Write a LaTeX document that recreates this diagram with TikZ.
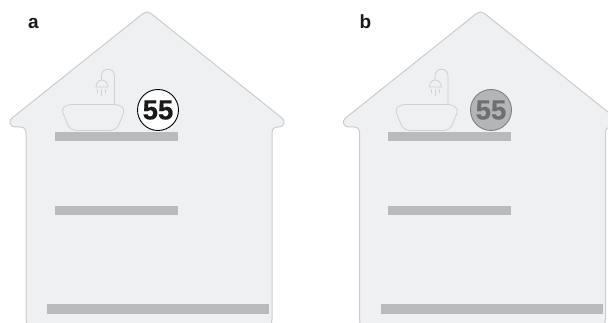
\documentclass[tikz,border=0pt]{standalone}
\usepackage{fontspec}
\setmainfont{Liberation Sans}
\newfontfamily\badgefont[FakeBold=0.6]{Liberation Sans Bold}
\definecolor{housefill}{HTML}{EFF0F2}
\definecolor{houseline}{HTML}{CBCCCE}
\definecolor{fixture}{HTML}{CFD0D2}
\definecolor{shelf}{HTML}{B9BABC}
\definecolor{dimfill}{HTML}{B4B5B7}
\definecolor{dimtext}{HTML}{6E6F71}
\definecolor{dimline}{HTML}{7E7F81}
\tikzset{
  housebody/.style={draw=houseline,fill=housefill,line width=1pt},
  fixtureline/.style={draw=fixture,line width=0.8pt,line cap=round},
  shelfbar/.style={fill=shelf,draw=none,inner sep=0pt,minimum height=9.5pt,anchor=west},
  panel/.style={font=\bfseries\fontsize{19}{19}\selectfont,text=black!90,inner sep=0pt,anchor=base},
  badge/.style={circle,minimum size=41pt,inner sep=0pt,line width=0.9pt,font=\badgefont\fontsize{27.5}{28}\selectfont}
}
\newcommand{\housedraw}[1]{%
\begin{scope}[xshift=#1pt]
  \path[housebody] (28,325) .. controls (26.5,324) and (26,322) .. (26,319) -- (26,133)
    .. controls (26,129) and (24,127) .. (20,127) -- (15,127)
    .. controls (10,127) and (8,121) .. (12,118)
    -- (143,13.5) .. controls (145.5,11.5) and (148.5,11.5) .. (151,13.5)
    -- (282,118) .. controls (286,121) and (284,127) .. (279,127) -- (278,127)
    .. controls (274,127) and (272,129) .. (272,133) -- (272,319)
    .. controls (272,322) and (271.5,324) .. (270,325);
  % basin
  \path[fixtureline] (73,104.5) -- (113,104.5)
    .. controls (121,104.5) and (125,108) .. (123.5,113)
    -- (119.5,123) .. controls (117.5,128.5) and (114,130.5) .. (109,130.5)
    -- (78,130.5) .. controls (72,130.5) and (69,128.5) .. (67,123)
    -- (63,113) .. controls (61,108) and (65,104.5) .. (73,104.5) -- cycle;
  % shower pipe and head
  \path[fixtureline] (114.5,104) -- (114.5,76)
    .. controls (114.5,67) and (101.5,67) .. (101.5,76) -- (101.5,80);
  \path[fixtureline] (96,87) .. controls (96,82.5) and (99,80) .. (101.5,80)
    .. controls (105,80) and (107.5,82.5) .. (108,87) -- cycle;
  \path[fixtureline] (97.5,89.5) -- (97.5,93) (101.5,89.5) -- (101.5,95.5) (105.5,89.5) -- (105.5,93);
\end{scope}}
\begin{document}
\begin{tikzpicture}[x=1pt,y=-1pt]
\useasboundingbox (0,0) rectangle (608,323);
\housedraw{0}
\housedraw{333.5}
\node[panel] (la) at (33.5,29) {a};
\node[panel] (lb) at (365.5,29) {b};
\node[shelfbar,minimum width=123pt] (a1) at (55,136.5) {};
\node[shelfbar,minimum width=123pt] (a2) at (55,210.5) {};
\node[shelfbar,minimum width=222pt] (a3) at (47,309) {};
\node[shelfbar,minimum width=123pt] (b1) at (388,136.5) {};
\node[shelfbar,minimum width=123pt] (b2) at (388,210.5) {};
\node[shelfbar,minimum width=222pt] (b3) at (381,309) {};
\node[badge,draw=black,fill=white,text=black!90] (ca) at (158,110) {55};
\node[badge,draw=dimline,fill=dimfill,text=dimtext] (cb) at (491,110) {55};
\end{tikzpicture}
\end{document}
